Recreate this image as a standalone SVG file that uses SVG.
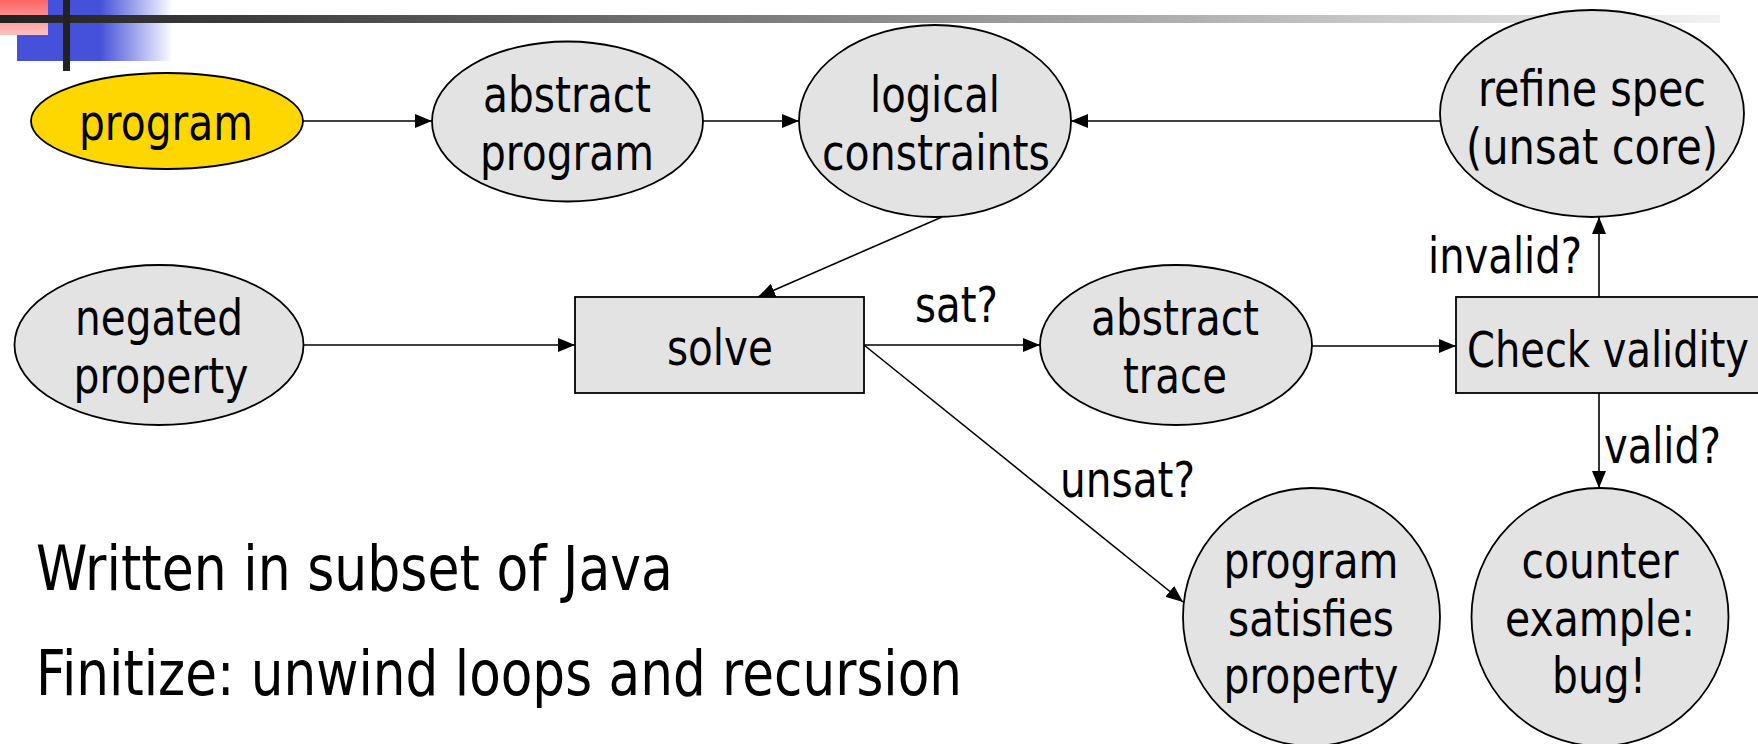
<svg xmlns="http://www.w3.org/2000/svg" width="1758" height="744" viewBox="0 0 1758 744">
  <style>
    .node { fill: #e3e3e3; stroke: #000; stroke-width: 1.8; }
    .start { fill: #ffd700; stroke: #000; stroke-width: 1.8; }
    .lbl { font-family: "DejaVu Sans", "Liberation Sans", sans-serif; font-size: 50px; fill: #000; text-anchor: middle; }
    .elbl { font-family: "DejaVu Sans", "Liberation Sans", sans-serif; font-size: 50px; fill: #000; }
    .note { font-family: "DejaVu Sans", "Liberation Sans", sans-serif; font-size: 62px; fill: #000; }
    .edge { stroke: #000; stroke-width: 1.6; fill: none; marker-end: url(#arrow); }
  </style>
  <defs>
    <marker id="arrow" markerUnits="userSpaceOnUse" markerWidth="18" markerHeight="14" refX="17" refY="7" orient="auto">
      <path d="M0,0 L17,7 L0,14 Z" fill="#000"/>
    </marker>
    <linearGradient id="barGrad" x1="0" y1="0" x2="1" y2="0">
      <stop offset="0" stop-color="#222"/>
      <stop offset="0.05" stop-color="#2a2a2a"/>
      <stop offset="1" stop-color="#f2f2f2"/>
    </linearGradient>
    <linearGradient id="blueGrad" x1="0" y1="0" x2="1" y2="0">
      <stop offset="0" stop-color="#4551d8"/>
      <stop offset="0.53" stop-color="#4551d8"/>
      <stop offset="1" stop-color="#ffffff"/>
    </linearGradient>
    <linearGradient id="redGrad" x1="0" y1="0" x2="0" y2="1">
      <stop offset="0" stop-color="#ff6464"/>
      <stop offset="1" stop-color="#ffc2c2"/>
    </linearGradient>
  </defs>

  <rect width="1758" height="744" fill="#fff"/>

  <!-- title decoration -->
  <g id="decor">
    <rect x="17" y="0" width="156" height="61" fill="url(#blueGrad)"/>
    <rect x="0" y="0" width="48" height="35" fill="url(#redGrad)"/>
    <rect x="0" y="15" width="1720" height="8" fill="url(#barGrad)"/>
    <rect x="63" y="0" width="7" height="71" fill="#222"/>
  </g>

  <!-- connectors -->
  <g id="connectors">
    <line class="edge" x1="303" y1="121" x2="432" y2="121"/>
    <line class="edge" x1="703" y1="121" x2="799" y2="121"/>
    <line class="edge" x1="1440" y1="121" x2="1071" y2="121"/>
    <line class="edge" x1="942" y1="217" x2="758" y2="297"/>
    <line class="edge" x1="303" y1="345" x2="575" y2="345"/>
    <line class="edge" x1="864" y1="345" x2="1040" y2="345"/>
    <line class="edge" x1="864" y1="345" x2="1183" y2="602"/>
    <line class="edge" x1="1312" y1="346" x2="1456" y2="346"/>
    <line class="edge" x1="1599" y1="297" x2="1599" y2="217"/>
    <line class="edge" x1="1599" y1="393" x2="1599" y2="488"/>
    <text class="elbl" x="915" y="322" textLength="83" lengthAdjust="spacingAndGlyphs">sat?</text>
    <text class="elbl" x="1060" y="497" textLength="135" lengthAdjust="spacingAndGlyphs">unsat?</text>
    <text class="elbl" x="1428" y="273" textLength="154" lengthAdjust="spacingAndGlyphs">invalid?</text>
    <text class="elbl" x="1604" y="463" textLength="117" lengthAdjust="spacingAndGlyphs">valid?</text>
  </g>

  <g id="program">
    <ellipse class="start" cx="167" cy="121" rx="136" ry="48"/>
    <text class="lbl" x="166" y="140" textLength="174" lengthAdjust="spacingAndGlyphs">program</text>
  </g>

  <g id="abstract-program">
    <ellipse class="node" cx="567.5" cy="121.5" rx="135.5" ry="80"/>
    <text class="lbl" x="567" y="112" textLength="168" lengthAdjust="spacingAndGlyphs">abstract</text>
    <text class="lbl" x="567" y="170" textLength="174" lengthAdjust="spacingAndGlyphs">program</text>
  </g>

  <g id="logical-constraints">
    <ellipse class="node" cx="935" cy="121" rx="136" ry="96"/>
    <text class="lbl" x="935" y="112" textLength="130" lengthAdjust="spacingAndGlyphs">logical</text>
    <text class="lbl" x="936" y="170" textLength="228" lengthAdjust="spacingAndGlyphs">constraints</text>
  </g>

  <g id="refine-spec">
    <ellipse class="node" cx="1592" cy="113.5" rx="152" ry="103.5"/>
    <text class="lbl" x="1592" y="106" textLength="228" lengthAdjust="spacingAndGlyphs">refine spec</text>
    <text class="lbl" x="1592" y="164" textLength="252" lengthAdjust="spacingAndGlyphs">(unsat core)</text>
  </g>

  <g id="negated-property">
    <ellipse class="node" cx="159" cy="345" rx="144.5" ry="80"/>
    <text class="lbl" x="159" y="335" textLength="168" lengthAdjust="spacingAndGlyphs">negated</text>
    <text class="lbl" x="161" y="393" textLength="175" lengthAdjust="spacingAndGlyphs">property</text>
  </g>

  <g id="solve">
    <rect class="node" x="575" y="297" width="289" height="96"/>
    <text class="lbl" x="720" y="365" textLength="106" lengthAdjust="spacingAndGlyphs">solve</text>
  </g>

  <g id="abstract-trace">
    <ellipse class="node" cx="1176" cy="345" rx="136" ry="80"/>
    <text class="lbl" x="1175" y="335" textLength="168" lengthAdjust="spacingAndGlyphs">abstract</text>
    <text class="lbl" x="1175" y="393" textLength="104" lengthAdjust="spacingAndGlyphs">trace</text>
  </g>

  <g id="check-validity">
    <rect class="node" x="1456" y="297" width="320" height="96"/>
    <text class="elbl" x="1467" y="367" textLength="282" lengthAdjust="spacingAndGlyphs">Check validity</text>
  </g>

  <g id="program-satisfies-property">
    <ellipse class="node" cx="1311.5" cy="617" rx="128.5" ry="129"/>
    <text class="lbl" x="1311" y="578" textLength="175" lengthAdjust="spacingAndGlyphs">program</text>
    <text class="lbl" x="1311" y="636" textLength="166" lengthAdjust="spacingAndGlyphs">satisfies</text>
    <text class="lbl" x="1311" y="693" textLength="175" lengthAdjust="spacingAndGlyphs">property</text>
  </g>

  <g id="counter-example">
    <ellipse class="node" cx="1600" cy="617" rx="128.5" ry="129"/>
    <text class="lbl" x="1600" y="578" textLength="157" lengthAdjust="spacingAndGlyphs">counter</text>
    <text class="lbl" x="1600" y="636" textLength="190" lengthAdjust="spacingAndGlyphs">example:</text>
    <text class="lbl" x="1599" y="693" textLength="94" lengthAdjust="spacingAndGlyphs">bug!</text>
  </g>

  <g id="notes">
    <text class="note" x="36" y="590" textLength="637" lengthAdjust="spacingAndGlyphs">Written in subset of Java</text>
    <text class="note" x="36" y="695" textLength="926" lengthAdjust="spacingAndGlyphs">Finitize: unwind loops and recursion</text>
  </g>
</svg>
